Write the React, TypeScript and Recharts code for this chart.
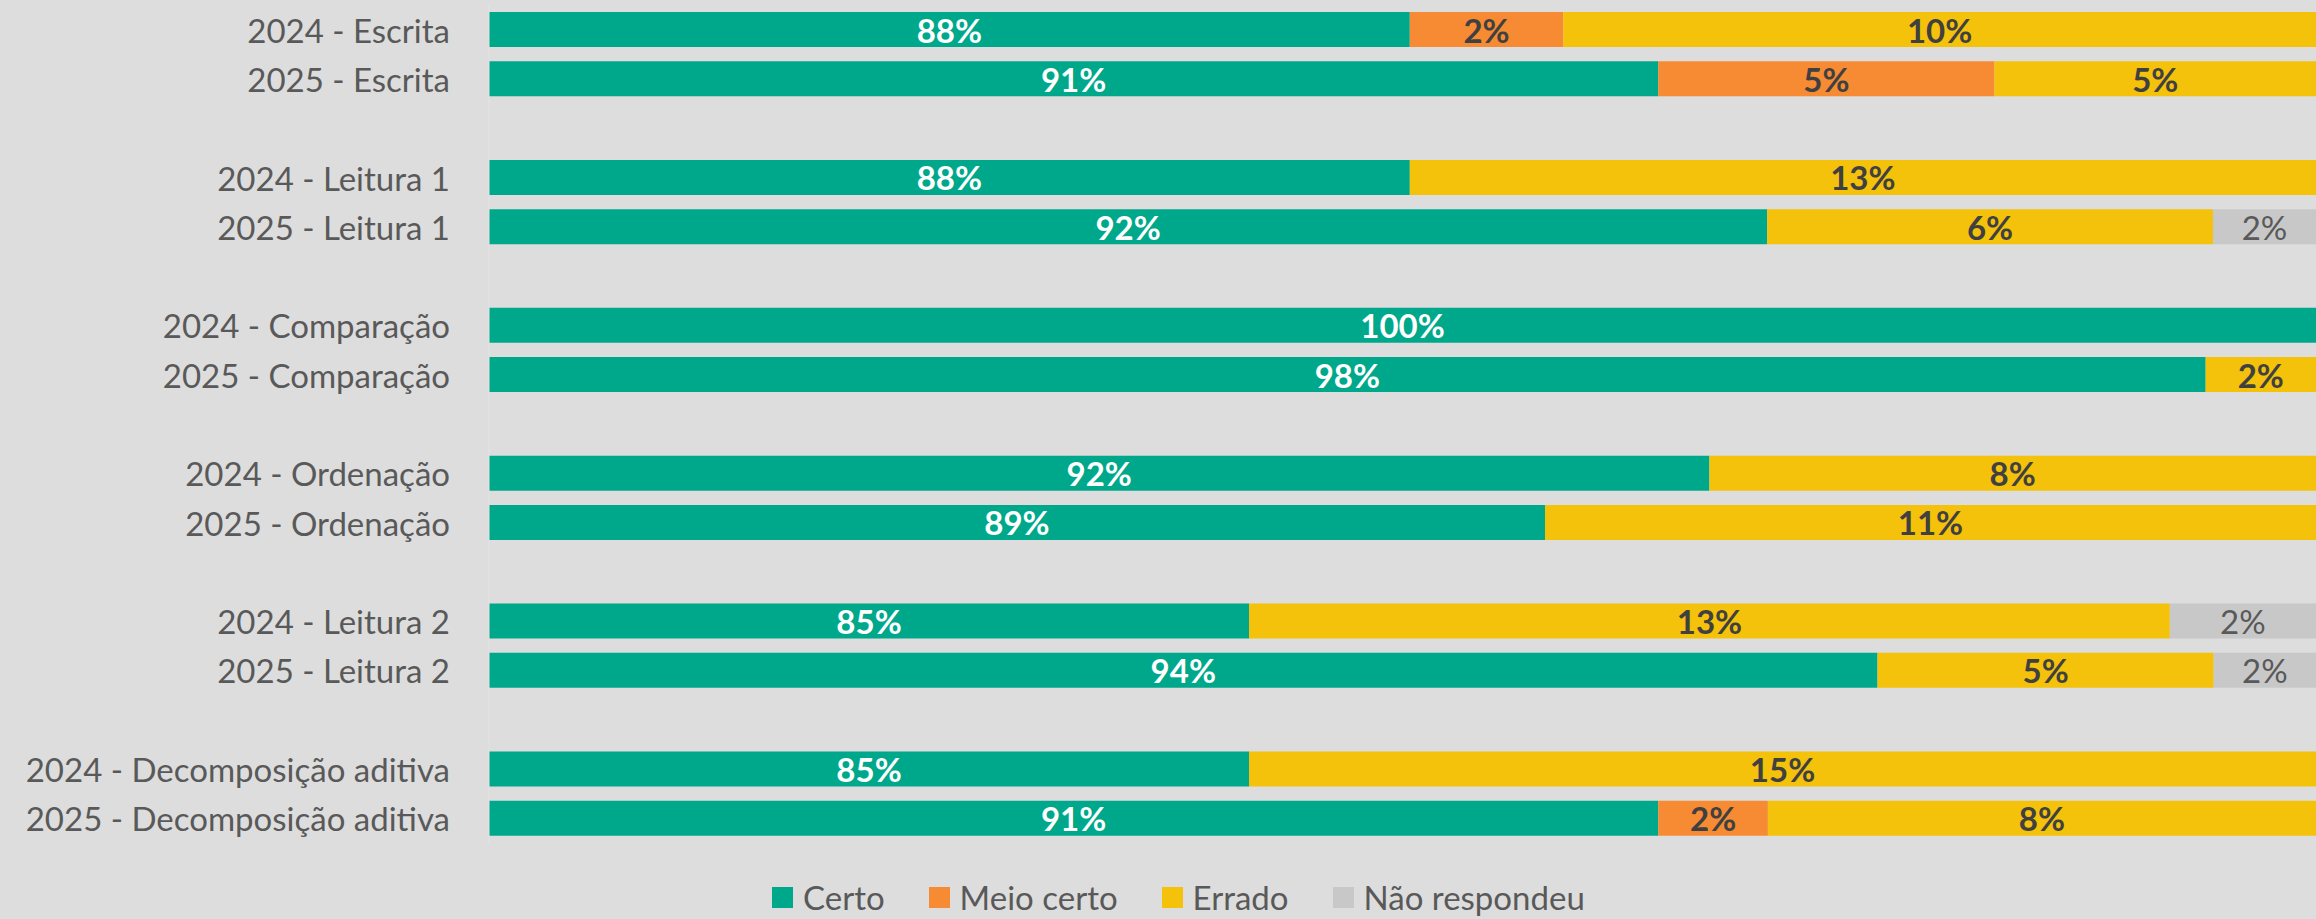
import React from 'react';
import { BarChart, Bar, XAxis, YAxis, Legend, LabelList } from 'recharts';

const categories = [
  '2024 - Escrita', '2025 - Escrita', '',
  '2024 - Leitura 1', '2025 - Leitura 1', '',
  '2024 - Comparação', '2025 - Comparação', '',
  '2024 - Ordenação', '2025 - Ordenação', '',
  '2024 - Leitura 2', '2025 - Leitura 2', '',
  '2024 - Decomposição aditiva', '2025 - Decomposição aditiva'
];

// percentages per row (gap rows are null)
const certo = [87.6, 91.0, null, 87.6, 92.49, null, 100, 98.49, null, 91.7, 89.45, null, 85.4, 94.0, null, 85.4, 91.0];
const meioCerto = [2.1, 4.6, null, 0, 0, null, 0, 0, null, 0, 0, null, 0, 0, null, 0, 1.5];
const errado = [10.4, 4.5, null, 12.5, 6.1, null, 0, 1.6, null, 8.3, 10.55, null, 12.6, 4.6, null, 14.6, 7.6];
const naoRespondeu = [0, 0, null, 0, 1.5, null, 0, 0, null, 0, 0, null, 2.0, 1.5, null, 0, 0];

const seriesNames = ['Certo', 'Meio certo', 'Errado', 'Não respondeu'];
const colors = ['#00a88b', '#f78b33', '#f4c10b', '#c8c8c8'];

const data = categories.map((name, i) => ({
  name,
  certo: certo[i],
  meioCerto: meioCerto[i],
  errado: errado[i],
  naoRespondeu: naoRespondeu[i]
}));

const W = 2316;
const H = 919;
const AXIS_W = 489;
const PLOT_LEFT = AXIS_W;
const PLOT_RIGHT = W;
const FONT = 'Lato, "Noto Sans", sans-serif';
const BG = '#dddddd';

const renderLabel = (fill: string, weight: number) => (props: any) => {
  const vb = props.viewBox || props;
  const { x, y, width, height } = vb;
  const value = props.value;
  if (!value) return null;
  // centre the label on the visible part of the segment
  const left = Math.max(x, PLOT_LEFT);
  const right = Math.min(x + width, PLOT_RIGHT);
  return (
    <text
      x={(left + right) / 2}
      y={y + height / 2}
      textAnchor="middle"
      dominantBaseline="central"
      fill={fill}
      fontFamily={FONT}
      fontWeight={weight}
      fontSize={33}
    >
      {Math.round(value)}%
    </text>
  );
};

const CategoryTick = (props: any) => {
  const { x, y, payload } = props;
  if (!payload.value) return <g />;
  return (
    <text
      x={x}
      y={y}
      textAnchor="end"
      dominantBaseline="central"
      fill="#595959"
      fontFamily={FONT}
      fontSize={33}
    >
      {payload.value}
    </text>
  );
};

const LegendContent = () => (
  <div
    style={{
      height: 76,
      display: 'flex',
      alignItems: 'flex-end',
      paddingLeft: 772,
      paddingBottom: 6,
      boxSizing: 'border-box',
      fontFamily: FONT,
      fontSize: 33,
      color: '#595959'
    }}
  >
    {seriesNames.map((n, i) => (
      <div key={n} style={{ display: 'flex', alignItems: 'center', marginRight: 44, height: 32 }}>
        <span style={{ width: 21, height: 21, background: colors[i], marginRight: 10, display: 'inline-block' }} />
        <span style={{ lineHeight: '32px' }}>{n}</span>
      </div>
    ))}
  </div>
);

export default function App() {
  const keys = ['certo', 'meioCerto', 'errado', 'naoRespondeu'];
  const labelFill = ['#ffffff', '#404040', '#404040', '#595959'];
  const labelWeight = [700, 700, 700, 400];
  return (
    <div style={{ position: 'absolute', left: 0, top: 0, width: W, height: H, background: BG, overflow: 'hidden' }}>
      <BarChart
        width={W}
        height={H}
        data={data}
        layout="vertical"
        margin={{ top: 5, right: 0, left: 0, bottom: 0 }}
        barSize={35}
      >
        <XAxis type="number" domain={[75, 100]} allowDataOverflow hide />
        <YAxis
          type="category"
          dataKey="name"
          width={AXIS_W}
          interval={0}
          tickSize={0}
          tickMargin={39}
          tickLine={false}
          axisLine={{ stroke: '#e3e3e3' }}
          tick={<CategoryTick />}
        />
        <Legend verticalAlign="bottom" content={() => <LegendContent />} />
        {keys.map((k, i) => (
          <Bar
            key={k}
            dataKey={k}
            name={seriesNames[i]}
            stackId="a"
            fill={colors[i]}
            isAnimationActive={false}
          >
            <LabelList dataKey={k} content={renderLabel(labelFill[i], labelWeight[i])} />
          </Bar>
        ))}
      </BarChart>
    </div>
  );
}
